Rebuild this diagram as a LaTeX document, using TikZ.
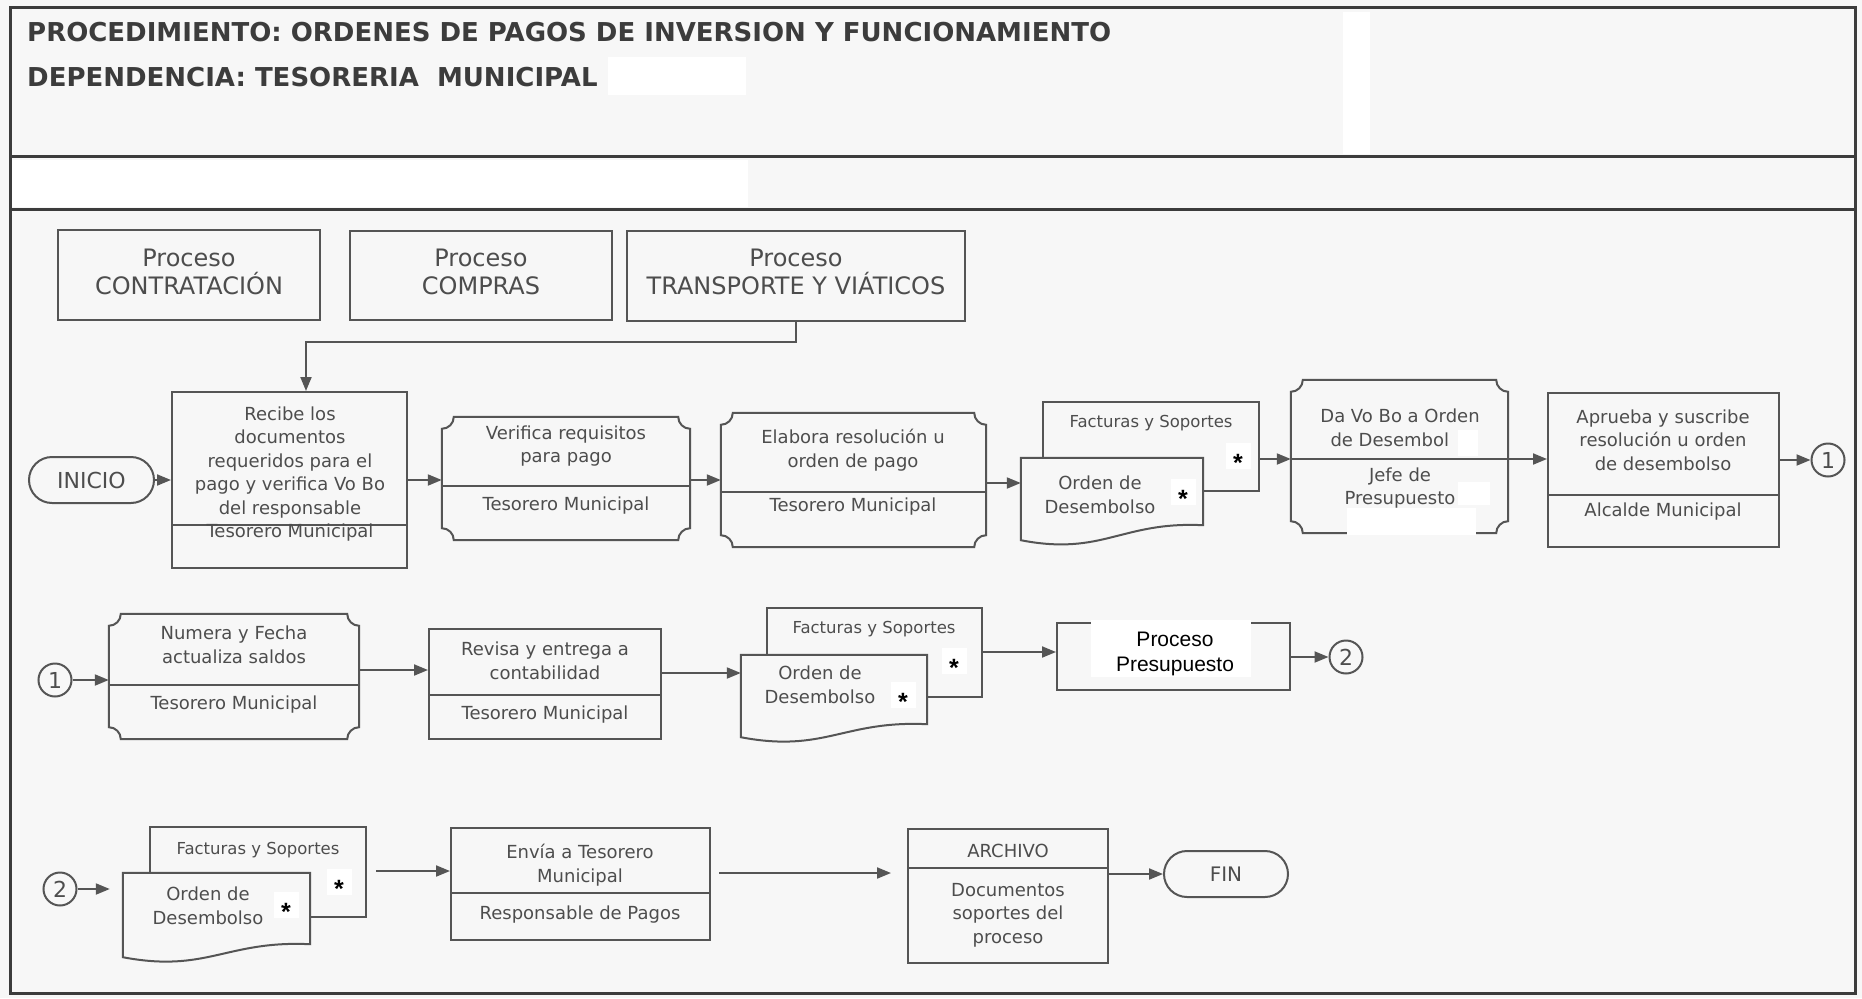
\documentclass[tikz,border=0pt]{standalone}
\usepackage{fontspec}
\setmainfont{DejaVu Sans}
\newfontfamily\plainsans{Liberation Sans}
\usetikzlibrary{arrows.meta,calc}

\definecolor{paper}{HTML}{F7F7F7}
\definecolor{ink}{HTML}{4D4D4D}
\definecolor{edge}{HTML}{555555}
\definecolor{rule}{HTML}{3C3C3C}

% box from its corners: [style]{name}{x1}{y1}{x2}{y2}
\newcommand\placebox[6][]{%
  \node[#1,minimum width={(#5)-(#3)},minimum height={(#6)-(#4)}] (#2)
    at ({((#3)+(#5))/2},{((#4)+(#6))/2}) {};}
% horizontal divider across a box at a given row
\newcommand\splitline[2]{%
  \draw[ln] let \p1=(#1.west), \p2=(#1.east) in (\x1,-#2pt) -- (\x2,-#2pt);}
% outline with concave rounded corners around a node
\newcommand\concave[2]{%
  \draw[ln] let \p1=(#1.north west), \p2=(#1.south east) in
   (\x1,\y1-#2) -- (\x1,\y2+#2)
   .. controls (\x1+0.55*#2,\y2+#2) and (\x1+#2,\y2+0.55*#2) .. (\x1+#2,\y2)
   -- (\x2-#2,\y2)
   .. controls (\x2-#2,\y2+0.55*#2) and (\x2-0.55*#2,\y2+#2) .. (\x2,\y2+#2)
   -- (\x2,\y1-#2)
   .. controls (\x2-0.55*#2,\y1-#2) and (\x2-#2,\y1-0.55*#2) .. (\x2-#2,\y1)
   -- (\x1+#2,\y1)
   .. controls (\x1+#2,\y1-0.55*#2) and (\x1+0.55*#2,\y1-#2) .. (\x1,\y1-#2) -- cycle;}
% document symbol with a wavy lower edge around a node
\newcommand\docshape[2]{%
  \draw[ln,fill=paper] let \p1=(#1.north west), \p2=(#1.south east) in
   (\x1,\y1) -- (\x2,\y1) -- (\x2,\y2+#2)
   .. controls (\x1+0.55*\x2-0.55*\x1,\y2+#2+4pt) and (\x1+0.45*\x2-0.45*\x1,\y2-16pt) .. (\x1,\y2)
   -- cycle;}

\begin{document}
\begin{tikzpicture}[x=1pt,y=-1pt,
  ln/.style={draw=edge,line width=2pt},
  box/.style={rectangle,ln,inner sep=0pt},
  ghost/.style={rectangle,draw=none,inner sep=0pt},
  txt/.style={text=ink,align=center,inner sep=0pt,font=\fontsize{18}{23.5}\selectfont},
  small/.style={txt,font=\fontsize{16.5}{20}\selectfont},
  big/.style={txt,font=\fontsize{24}{28}\selectfont},
  head/.style={anchor=west,inner sep=0pt,text=rule,font=\bfseries\fontsize{26}{30}\selectfont},
  arr/.style={draw=edge,line width=2pt,-{Triangle[length=14pt,width=11pt]}},
  term/.style={rectangle,ln,rounded corners=23pt,inner sep=0pt},
  link/.style={circle,ln,inner sep=0pt,minimum size=33pt,text=ink,font=\fontsize{22}{26}\selectfont},
  ast/.style={anchor=base,inner sep=0pt,text=black,font=\plainsans\bfseries\fontsize{25}{25}\selectfont},
  patch/.style={fill=white,draw=none},
]
\useasboundingbox (0,0) rectangle (1862,998);
\fill[paper] (0,0) rectangle (1862,998);

% ---------- header ----------
\fill[patch] (608,57) rectangle (746,95);
\fill[patch] (12,160) rectangle (748,207);
\fill[patch] (1343,12) rectangle (1370,154);
\draw[draw=rule,line width=3pt] (10,8) rectangle (1855,993);
\draw[draw=rule,line width=3pt] (10,156) -- (1855,156);
\draw[draw=rule,line width=3pt] (10,209) -- (1855,209);
\node[head] (title) at (27,32) {PROCEDIMIENTO: ORDENES DE PAGOS DE INVERSION Y FUNCIONAMIENTO};
\node[head] (dep) at (27,77) {DEPENDENCIA: TESORERIA\ \ MUNICIPAL};

% ---------- source processes ----------
\placebox[box]{pc}{58}{230}{320}{320}
\node[big] (pc-t) at (189,272) {Proceso\\CONTRATACIÓN};
\placebox[box]{pm}{350}{231}{612}{320}
\node[big] (pm-t) at (481,272) {Proceso\\COMPRAS};
\placebox[box]{pt}{627}{231}{965}{321}
\node[big] (pt-t) at (796,272) {Proceso\\TRANSPORTE Y VIÁTICOS};

% ---------- first row ----------
\placebox[term]{inicio}{29}{457}{154}{503}
\node[txt,font=\fontsize{22}{26}\selectfont] (inicio-t) at (inicio) {INICIO};

\placebox[box]{recibe}{172}{392}{407}{568}
\splitline{recibe}{525}
\node[txt] (recibe-t) at (290,474) {Recibe los\\documentos\\requeridos para el\\pago y verifica Vo Bo\\del responsable\\Tesorero Municipal};

\placebox[ghost]{verifica}{442}{417}{690}{540}
\concave{verifica}{12pt}
\splitline{verifica}{486}
\node[txt] (verifica-t) at (566,446) {Verifica requisitos\\para pago};
\node[txt] (verifica-r) at (566,506) {Tesorero Municipal};

\placebox[ghost]{elabora}{721}{413}{986}{547}
\concave{elabora}{12pt}
\splitline{elabora}{492}
\node[txt] (elabora-t) at (853,450) {Elabora resolución u\\orden de pago};
\node[txt] (elabora-r) at (853,507) {Tesorero Municipal};

\placebox[box,fill=paper]{fac1}{1043}{402}{1259}{491}
\node[small] (fac1-t) at (1151,423) {Facturas y Soportes};
\fill[patch] (1226,443) rectangle (1251,469);
\node[ast] (ast1a) at (1238,471) {*};
\placebox[ghost]{ord1}{1021}{458}{1203}{540}
\docshape{ord1}{15pt}
\node[txt] (ord1-t) at (1100,495) {Orden de\\Desembolso};
\fill[patch] (1171,479) rectangle (1196,505);
\node[ast] (ast1b) at (1183,507) {*};

\placebox[ghost]{vobo}{1291}{380}{1508}{533}
\concave{vobo}{12pt}
\splitline{vobo}{459}
\node[txt] (vobo-t) at (1400,428) {Da Vo Bo a Orden\\de Desembol\phantom{so}};
\node[txt] (vobo-r) at (1400,488) {Jefe de\\Presupuesto};
\fill[patch] (1458,430) rectangle (1478,456);
\fill[patch] (1458,482) rectangle (1490,505);
\fill[patch] (1347,508) rectangle (1476,535);

\placebox[box]{aprueba}{1548}{393}{1779}{547}
\splitline{aprueba}{495}
\node[txt] (aprueba-t) at (1663,440) {Aprueba y suscribe\\resolución u orden\\de desembolso};
\node[txt] (aprueba-r) at (1663,512) {Alcalde Municipal};

\node[link] (c1) at (1828,460) {1};

% ---------- second row ----------
\node[link] (c1b) at (55,680) {1};

\placebox[ghost]{numera}{109}{614}{359}{739}
\concave{numera}{12pt}
\splitline{numera}{685}
\node[txt] (numera-t) at (234,645) {Numera y Fecha\\actualiza saldos};
\node[txt] (numera-r) at (234,705) {Tesorero Municipal};

\placebox[box]{revisa}{429}{629}{661}{739}
\splitline{revisa}{695}
\node[txt] (revisa-t) at (545,661) {Revisa y entrega a\\contabilidad};
\node[txt] (revisa-r) at (545,715) {Tesorero Municipal};

\placebox[box,fill=paper]{fac2}{767}{608}{982}{697}
\node[small] (fac2-t) at (874,629) {Facturas y Soportes};
\fill[patch] (942,648) rectangle (967,674);
\node[ast] (ast2a) at (954,676) {*};
\placebox[ghost]{ord2}{741}{655}{927}{737}
\docshape{ord2}{13pt}
\node[txt] (ord2-t) at (820,685) {Orden de\\Desembolso};
\fill[patch] (891,682) rectangle (916,708);
\node[ast] (ast2b) at (903,710) {*};

\placebox[box]{presup}{1057}{623}{1290}{690}
\fill[patch] (1091,620) rectangle (1251,677);
\node[inner sep=0pt,align=center,text=black,font=\plainsans\fontsize{21}{25}\selectfont] (presup-t) at (1175,654) {Proceso\\Presupuesto};

\node[link] (c2) at (1346,657) {2};

% ---------- third row ----------
\node[link] (c2b) at (60,889) {2};

\placebox[box,fill=paper]{fac3}{150}{827}{366}{917}
\node[small] (fac3-t) at (258,850) {Facturas y Soportes};
\fill[patch] (327,869) rectangle (352,895);
\node[ast] (ast3a) at (339,897) {*};
\placebox[ghost]{ord3}{123}{873}{310}{957}
\docshape{ord3}{13pt}
\node[txt] (ord3-t) at (208,906) {Orden de\\Desembolso};
\fill[patch] (274,892) rectangle (299,918);
\node[ast] (ast3b) at (286,920) {*};

\placebox[box]{envia}{451}{828}{710}{940}
\splitline{envia}{893}
\node[txt] (envia-t) at (580,865) {Envía a Tesorero\\Municipal};
\node[txt] (envia-r) at (580,915) {Responsable de Pagos};

\placebox[box]{archivo}{908}{829}{1108}{963}
\splitline{archivo}{868}
\node[txt] (archivo-t) at (1008,851) {ARCHIVO};
\node[txt] (archivo-r) at (1008,915) {Documentos\\soportes del\\proceso};

\placebox[term]{fin}{1164}{851}{1288}{897}
\node[txt,font=\fontsize{20}{24}\selectfont] (fin-t) at (fin) {FIN};

% ---------- connectors ----------
\coordinate (bendR) at (796,342);
\coordinate (bendL) at (306,342);
\draw[arr] (pt.south) -- (bendR) -- (bendL) -- (bendL |- recibe.north);

\coordinate (r1) at (0,480);
\coordinate (r1b) at (0,483);
\coordinate (r1c) at (0,459);
\draw[arr] (inicio.east) -- (recibe.west |- inicio.east);
\draw[arr] (recibe.east |- r1) -- (verifica.west |- r1);
\draw[arr] (verifica.east |- r1) -- (elabora.west |- r1);
\draw[arr] (elabora.east |- r1b) -- (ord1.west |- r1b);
\draw[arr] (fac1.east |- r1c) -- (vobo.west |- r1c);
\draw[arr] (vobo.east |- r1c) -- (aprueba.west |- r1c);
\draw[arr] (aprueba.east |- c1) -- (c1.west);

\coordinate (r2a) at (0,670);
\coordinate (r2b) at (0,673);
\coordinate (r2c) at (0,652);
\draw[arr] (c1b.east) -- (numera.west |- c1b);
\draw[arr] (numera.east |- r2a) -- (revisa.west |- r2a);
\draw[arr] (revisa.east |- r2b) -- (ord2.west |- r2b);
\draw[arr] (fac2.east |- r2c) -- (presup.west |- r2c);
\draw[arr] (presup.east |- c2) -- (c2.west);

\coordinate (r3a) at (0,871);
\coordinate (r3b) at (0,873);
\draw[arr,shorten >=13pt] (c2b.east) -- (ord3.west |- c2b);
\draw[arr,shorten <=9pt] (fac3.east |- r3a) -- (envia.west |- r3a);
\draw[arr,shorten <=8pt,shorten >=16pt] (envia.east |- r3b) -- (archivo.west |- r3b);
\draw[arr] (archivo.east |- fin) -- (fin.west);
\end{tikzpicture}
\end{document}
